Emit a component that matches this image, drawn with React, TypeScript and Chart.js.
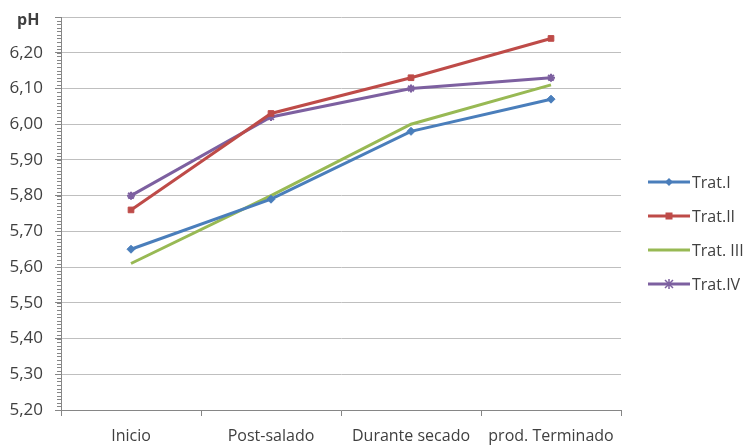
import React, { useEffect, useRef } from "react";
import { Chart, registerables } from "chart.js";

Chart.register(...registerables);

const categories = ["Inicio", "Post-salado", "Durante secado", "prod. Terminado"];
const tratI = [5.65, 5.79, 5.98, 6.07];
const tratII = [5.76, 6.03, 6.13, 6.24];
const tratIII = [5.61, 5.8, 6.0, 6.11];
const tratIV = [5.8, 6.02, 6.1, 6.13];
const seriesNames = ["Trat.I", "Trat.II", "Trat. III", "Trat.IV"];
const seriesColors = ["#4a7ebb", "#be4b48", "#98b954", "#7d60a0"];
const seriesMarkers = ["rectRot", "rect", "none", "star"];
const yMin = 5.2;
const yMax = 6.3;
const yStep = 0.1;
const yTitle = "pH";

const FONT = "'Open Sans', 'DejaVu Sans', sans-serif";
const TEXT = "#404040";

function drawMarker(g: CanvasRenderingContext2D, color: string, marker: string, cx: number, cy: number) {
  g.fillStyle = color;
  g.strokeStyle = color;
  if (marker === "rectRot") {
    g.beginPath();
    g.moveTo(cx, cy - 4);
    g.lineTo(cx + 4, cy);
    g.lineTo(cx, cy + 4);
    g.lineTo(cx - 4, cy);
    g.closePath();
    g.fill();
  } else if (marker === "rect") {
    g.fillRect(cx - 3.5, cy - 3.5, 7, 7);
  } else if (marker === "star") {
    g.lineWidth = 1.5;
    g.beginPath();
    g.moveTo(cx - 4, cy - 4);
    g.lineTo(cx + 4, cy + 4);
    g.moveTo(cx + 4, cy - 4);
    g.lineTo(cx - 4, cy + 4);
    g.moveTo(cx, cy - 5);
    g.lineTo(cx, cy + 5);
    g.stroke();
  }
}

const extras = {
  id: "extras",
  afterDraw(chart: any) {
    const y = chart.scales.y;
    const ctx = chart.ctx as CanvasRenderingContext2D;
    ctx.save();
    // minor ticks
    ctx.strokeStyle = "#868686";
    ctx.lineWidth = 1;
    const n = Math.round((yMax - yMin) / 0.01);
    for (let i = 0; i <= n; i++) {
      const v = yMin + i * 0.01;
      const py = Math.round(y.getPixelForValue(v)) + 0.5;
      ctx.beginPath();
      ctx.moveTo(y.right - 4, py);
      ctx.lineTo(y.right, py);
      ctx.stroke();
    }
    // axis title
    ctx.fillStyle = TEXT;
    ctx.font = `bold 16px ${FONT}`;
    ctx.textAlign = "left";
    ctx.textBaseline = "alphabetic";
    ctx.fillText(yTitle, 17, 25);
    // legend
    const lx = 648;
    const ly0 = 182;
    const dy = 34;
    ctx.font = `16px ${FONT}`;
    ctx.textBaseline = "middle";
    seriesNames.forEach((name, i) => {
      const cy = ly0 + i * dy;
      ctx.strokeStyle = seriesColors[i];
      ctx.lineWidth = 3;
      ctx.beginPath();
      ctx.moveTo(lx, cy);
      ctx.lineTo(lx + 42, cy);
      ctx.stroke();
      drawMarker(ctx, seriesColors[i], seriesMarkers[i], lx + 21, cy);
      ctx.fillStyle = TEXT;
      ctx.fillText(name, lx + 44, cy + 1);
    });
    ctx.restore();
  },
};

export default function App() {
  const ref = useRef<HTMLCanvasElement | null>(null);
  useEffect(() => {
    document.body.style.margin = "0";
    const data = [tratI, tratII, tratIII, tratIV];
    const chart = new Chart(ref.current!, {
      type: "line",
      data: {
        labels: categories,
        datasets: data.map((d, i) => ({
          label: seriesNames[i],
          data: d,
          borderColor: seriesColors[i],
          backgroundColor: seriesColors[i],
          borderWidth: 3,
          pointStyle: seriesMarkers[i] === "none" ? false : (seriesMarkers[i] as any),
          pointRadius: seriesMarkers[i] === "none" ? 0 : 4,
          pointBorderWidth: seriesMarkers[i] === "star" ? 2 : 1,
          tension: 0,
        })),
      },
      options: {
        animation: false,
        responsive: false,
        layout: { padding: { top: 17, left: 0, right: 124, bottom: 0 } },
        plugins: {
          tooltip: { enabled: false },
          legend: { display: false },
        },
        scales: {
          x: {
            offset: true,
            grid: {
              offset: true,
              drawOnChartArea: false,
              drawTicks: true,
              tickLength: 6,
              color: "#868686",
            },
            border: { color: "#868686" },
            ticks: {
              color: TEXT,
              font: { family: FONT, size: 16 },
              padding: 11,
              maxRotation: 0,
              autoSkip: false,
            },
            afterFit: (s: any) => {
              s.height = 38;
              s.paddingLeft = 0;
              s.paddingRight = 0;
            },
          },
          y: {
            min: yMin,
            max: yMax,
            grid: {
              color: "#bfbfbf",
              tickLength: 6,
              tickColor: "#868686",
            },
            border: { color: "#868686" },
            ticks: {
              stepSize: yStep,
              color: TEXT,
              padding: 12,
              font: { family: FONT, size: 17 },
              callback: (v: any) =>
                Math.abs(Number(v) - yMax) < 1e-6 ? "" : Number(v).toFixed(2).replace(".", ","),
            },
            afterFit: (s: any) => {
              s.width = 61;
              s.paddingTop = 0;
              s.paddingBottom = 0;
            },
          },
        },
      },
      plugins: [extras],
    });
    return () => chart.destroy();
  }, []);
  return (
    <div style={{ width: 745, height: 448, background: "#fff" }}>
      <canvas ref={ref} width={745} height={448} style={{ display: "block" }} />
    </div>
  );
}
